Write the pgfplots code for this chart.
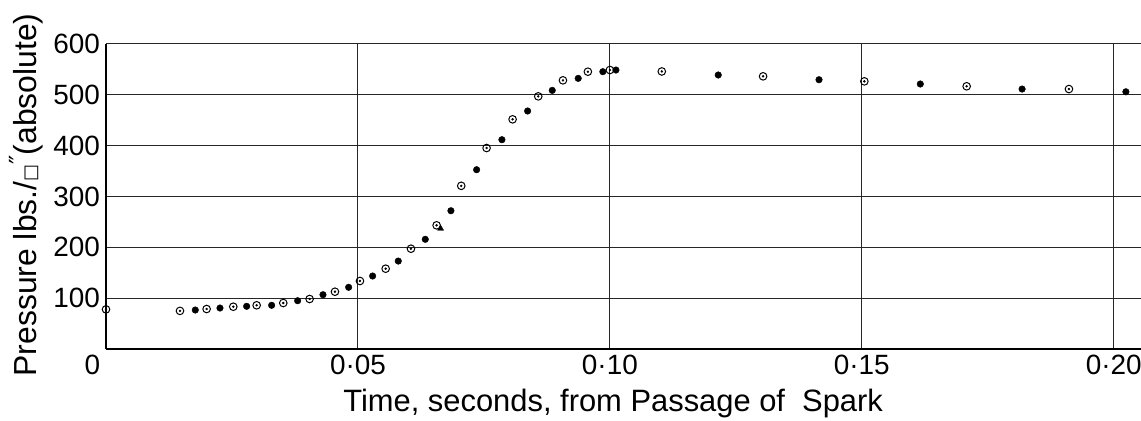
\documentclass[border=0pt]{standalone}
\usepackage{fontspec}
\setmainfont{Liberation Sans}
\newfontfamily\dejavu{DejaVu Sans}
\usepackage{pgfplots}
\usepackage{pgfplotstable}
\pgfplotsset{compat=1.18}
\pgfplotstableread{
x y
0 78
0.01468 75
0.01997 78.7
0.02526 83.2
0.0299 86
0.03518 90.5
0.04041 98.4
0.04544 112.7
0.0504 133.8
0.0555 158
0.06052 197.3
0.06561 243.3
0.0705 321
0.07553 395.4
0.08069 451.8
0.08578 497
0.09068 528.5
0.09563 545.5
0.1 548.8
0.1103 546
0.1304 536.4
0.1505 526.5
0.1708 516.8
0.1911 511.4
}\circles
\pgfplotstableread{
x y
0.01772 76.7
0.02262 80.6
0.02791 84
0.03287 86
0.03803 95
0.04306 106.8
0.04815 121.4
0.05291 143.6
0.058 173
0.06336 215.8
0.06845 272
0.07355 352.7
0.07857 411.7
0.08367 468.2
0.08856 508.8
0.09371 532.4
0.0986 545.5
0.1012 548.8
0.1215 539
0.1415 529.7
0.1616 521.3
0.1818 511.4
0.2024 506
}\dots
\begin{document}
\begin{tikzpicture}
\begin{axis}[
  scale only axis,
  width=1035bp, height=305bp,
  xmin=0, xmax=0.2054, ymin=0, ymax=600,
  axis x line*=bottom, axis y line*=left,
  axis line style={line width=1.6bp, black},
  xtick={0.05,0.1,0.15,0.2},
  xticklabels={0·05,0·10,0·15,0·20},
  ytick={100,200,300,400,500,600},
  major tick length=0pt,
  grid=major,
  major grid style={line width=1bp, black!85},
  tick label style={font=\fontsize{28}{30}\selectfont, inner sep=0pt},
  xticklabel style={anchor=north, yshift=-6bp},
  yticklabel style={anchor=east, xshift=-6bp},
  /pgf/number format/assume math mode=true,
  clip=false,
  xlabel={Time, seconds, from Passage of\ \ Spark},
  ylabel={Pressure lbs./{\dejavu\fontsize{18}{18}\selectfont □}\raisebox{0.3em}{\dejavu\fontsize{25}{25}\selectfont ″}(absolute)},
  every axis x label/.style={at={(axis description cs:0.49,-0.2033)}, anchor=base, font=\fontsize{31}{33}\selectfont},
  every axis y label/.style={at={(axis description cs:-0.0667,0.505)}, rotate=90, anchor=base, font=\fontsize{32}{34}\selectfont},
]
\coordinate (ll) at (rel axis cs:0,0);
\coordinate (ur) at (rel axis cs:1,1);
\addplot[only marks, mark=o, mark size=3.8bp, mark options={line width=1bp, fill=white, draw=black}] table {\circles};
\addplot[only marks, mark=*, mark size=1bp, mark options={fill=black, draw=black}] table {\circles};
\addplot[only marks, mark=*, mark size=3.3bp, mark options={fill=black, draw=black}] table {\dots};
\addplot[only marks, mark=triangle*, mark size=3.5bp, mark options={fill=black, draw=black}] coordinates {(0.0664,237)};
\node[font=\fontsize{28}{30}\selectfont, inner sep=0pt] at ([xshift=-13.5bp, yshift=-16bp]axis cs:0,0) {0};
\end{axis}
\pgfresetboundingbox
\path ([shift={(-106bp,-71bp)}]ll) rectangle ([shift={(0bp,44bp)}]ur);
\end{tikzpicture}
\end{document}
